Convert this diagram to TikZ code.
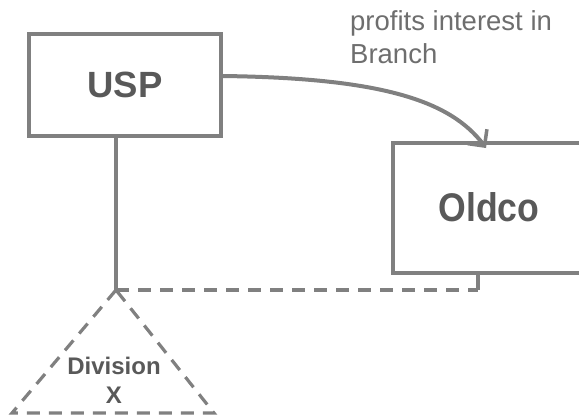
\documentclass[tikz,border=0pt]{standalone}
\usepackage{fontspec}
\setmainfont{Liberation Sans}
\usetikzlibrary{arrows.meta}
\definecolor{lineg}{HTML}{808080}
\definecolor{textg}{HTML}{595959}
\definecolor{labelg}{HTML}{6E6E6E}
\begin{document}
\begin{tikzpicture}[x=1pt,y=-1pt,
  entbox/.style={draw=lineg, line width=3.5pt, rectangle, inner sep=0pt, text=textg, font=\bfseries},
  solidln/.style={draw=lineg, line width=3.5pt},
  dashln/.style={draw=lineg, line width=3.2pt, dash pattern=on 13pt off 9pt},
]
\useasboundingbox (0,0) rectangle (579,416);
\clip (0,0) rectangle (579,416);
\node[entbox, minimum width=192pt, minimum height=102pt, font=\fontsize{36.5}{40}\selectfont\bfseries] (usp) at (125,85) {USP};
\node[entbox, minimum width=190pt, minimum height=130pt] (oldco) at (488,208) {};
\node[text=textg, inner sep=0pt, xscale=0.89, font=\fontsize{40}{44}\selectfont\bfseries] (oldcot) at (489,207) {Oldco};
\node[anchor=north west, align=left, text=labelg, inner sep=0pt, font=\fontsize{27.5}{33}\selectfont] (lbl) at (350,10) {profits interest in\\Branch};
\coordinate (apex) at (116,290);
\coordinate (bl) at (12,413);
\coordinate (br) at (214,413);
\coordinate (stub) at (478,290);
\node[text=textg, align=center, inner sep=0pt, font=\fontsize{24}{29}\selectfont\bfseries] (divx) at (114,380) {Division\\X};
\draw[solidln] (usp.south -| apex) -- (apex);
\draw[solidln] (oldco.south -| stub) -- (stub);
\draw[dashln] (apex) -- (stub);
\draw[dashln] (apex) -- (bl) -- (br) -- cycle;
\draw[solidln, line width=4pt, -{Straight Barb[length=12pt,width=24pt,line width=3.5pt]}] (usp.east |- 0,76) .. controls (380,78) and (450,100) .. (486,148);
\end{tikzpicture}
\end{document}
